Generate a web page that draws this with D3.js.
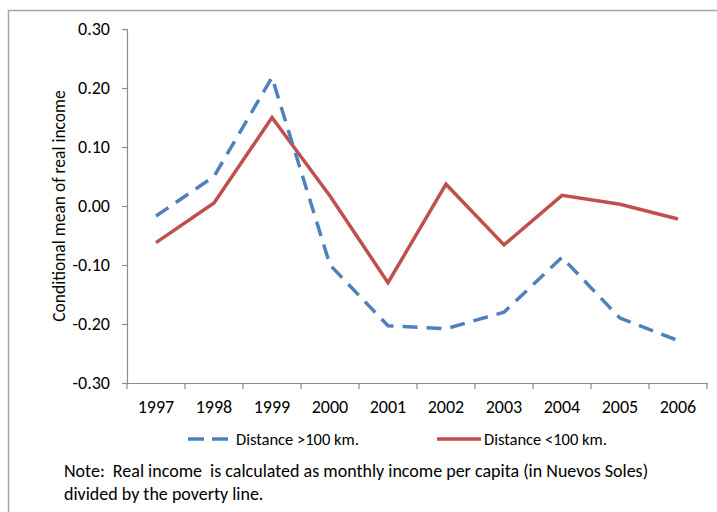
<!DOCTYPE html>
<html>
<head>
<meta charset="utf-8">
<script src="https://cdn.jsdelivr.net/npm/d3@7"></script>
<style>
  body { margin: 0; background: #fff; }
  svg text { font-family: Carlito, "Open Sans", "Liberation Sans", sans-serif; fill: #000; white-space: pre; }
</style>
</head>
<body>
<svg id="chart" width="717" height="512"></svg>
<script>
// chart data
let years = ["1997", "1998", "1999", "2000", "2001", "2002", "2003", "2004", "2005", "2006"];
let farValues = [-0.017, 0.050, 0.218, -0.100, -0.203, -0.208, -0.180, -0.087, -0.190, -0.228];
let nearValues = [-0.062, 0.005, 0.150, 0.017, -0.130, 0.037, -0.066, 0.018, 0.003, -0.022];
let yTicks = [-0.30, -0.20, -0.10, 0.00, 0.10, 0.20, 0.30];
let seriesNames = ["Distance >100 km.", "Distance <100 km."];
let noteLines = [
    "Note:  Real income  is calculated as monthly income per capita (in Nuevos Soles)",
    "divided by the poverty line."
];

let blue = "#4f81bd", red = "#c0504d";

let svg = d3.select("#chart");

// outer frame of the chart area
svg.append("rect")
    .attr("x", 8.5).attr("y", 10.5)
    .attr("width", 730).attr("height", 520)
    .attr("fill", "none")
    .attr("stroke", "#a6a6a6")
    .attr("stroke-width", 1.5);

let plotLeft = 127, plotRight = 707, plotTop = 29, plotBottom = 383;

let x = d3.scaleBand().domain(years).range([plotLeft, plotRight]);
let y = d3.scaleLinear().domain([-0.30, 0.30]).range([plotBottom, plotTop]);

// excel style: plain hyphen for negatives
let fmt = d => d3.format(".2f")(d).replace("\u2212", "-");

// y axis
let yAxis = svg.append("g")
    .attr("transform", `translate(${plotLeft},0)`)
    .call(d3.axisLeft(y).tickValues(yTicks).tickFormat(fmt).tickSize(5).tickPadding(12));
yAxis.selectAll("text").style("font-size", "18px");

// x axis
let xAxis = svg.append("g")
    .attr("transform", `translate(0,${plotBottom})`)
    .call(d3.axisBottom(x).tickSize(0).tickPadding(17));
xAxis.selectAll("text").style("font-size", "18px");
// tick marks between categories
xAxis.selectAll(".sep")
    .data(d3.range(years.length + 1))
    .enter().append("line")
    .attr("class", "sep")
    .attr("x1", i => plotLeft + i * x.step())
    .attr("x2", i => plotLeft + i * x.step())
    .attr("y1", 0).attr("y2", 6);

svg.selectAll(".domain, .tick line, .sep")
    .attr("stroke", "#8c8c8c")
    .attr("stroke-width", 1.2);

// y axis title
svg.append("text")
    .attr("transform", `translate(65,${(plotTop + plotBottom) / 2}) rotate(-90)`)
    .attr("text-anchor", "middle")
    .style("font-size", "17.5px")
    .text("Conditional mean of real income");

let line = d3.line()
    .x((d, i) => x(years[i]) + x.bandwidth() / 2)
    .y(d => y(d));

svg.append("path")
    .datum(nearValues)
    .attr("d", line)
    .attr("fill", "none")
    .attr("stroke", red)
    .attr("stroke-width", 3.5);

svg.append("path")
    .datum(farValues)
    .attr("d", line)
    .attr("fill", "none")
    .attr("stroke", blue)
    .attr("stroke-width", 3.5)
    .attr("stroke-dasharray", "15,9");

// legend
let legendY = 439;
svg.append("line")
    .attr("x1", 188).attr("x2", 228)
    .attr("y1", legendY).attr("y2", legendY)
    .attr("stroke", blue).attr("stroke-width", 3.5)
    .attr("stroke-dasharray", "16,8");
svg.append("text")
    .attr("x", 236).attr("y", legendY + 6)
    .style("font-size", "16.5px")
    .text(seriesNames[0]);

svg.append("line")
    .attr("x1", 437).attr("x2", 481)
    .attr("y1", legendY).attr("y2", legendY)
    .attr("stroke", red).attr("stroke-width", 3.5);
svg.append("text")
    .attr("x", 484).attr("y", legendY + 6)
    .style("font-size", "16.5px")
    .text(seriesNames[1]);

// note below the chart
svg.selectAll(".note")
    .data(noteLines)
    .enter().append("text")
    .attr("class", "note")
    .attr("x", 64)
    .attr("y", (d, i) => 477 + i * 23)
    .style("font-size", "18px")
    .text(d => d);
</script>
</body>
</html>
